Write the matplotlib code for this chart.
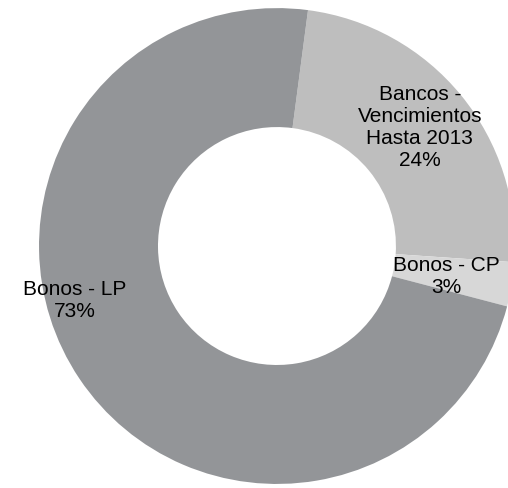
import matplotlib
matplotlib.use("Agg")
import matplotlib.pyplot as plt

# Data
categories = ["Bancos -\nVencimientos\nHasta 2013", "Bonos - CP", "Bonos - LP"]
shares = [24, 3, 73]
colors = ["#bebebe", "#d7d7d7", "#939598"]

# label positions (data units, outer radius = 1), set by hand like the original
label_pos = [(0.60, 0.50), (0.71, -0.13), (-0.85, -0.23)]

plt.rcParams["font.family"] = ["Liberation Sans", "DejaVu Sans"]

fig = plt.figure(figsize=(5.08, 4.88), dpi=100)
ax = fig.add_axes([0, 0, 1, 1])

ax.pie(shares, colors=colors, startangle=82.5, counterclock=False,
       radius=1.0, wedgeprops=dict(width=0.5, linewidth=0))

for name, val, (x, y) in zip(categories, shares, label_pos):
    ax.text(x, y, f"{name}\n{val}%", ha="center", va="center",
            fontsize=15, color="black", linespacing=1.2)

ax.set_xlim(-1.164, 0.971)
ax.set_ylim(-1.017, 1.034)
ax.set_aspect("auto")
ax.axis("off")

fig.savefig("out.png", dpi=100, facecolor="white")
